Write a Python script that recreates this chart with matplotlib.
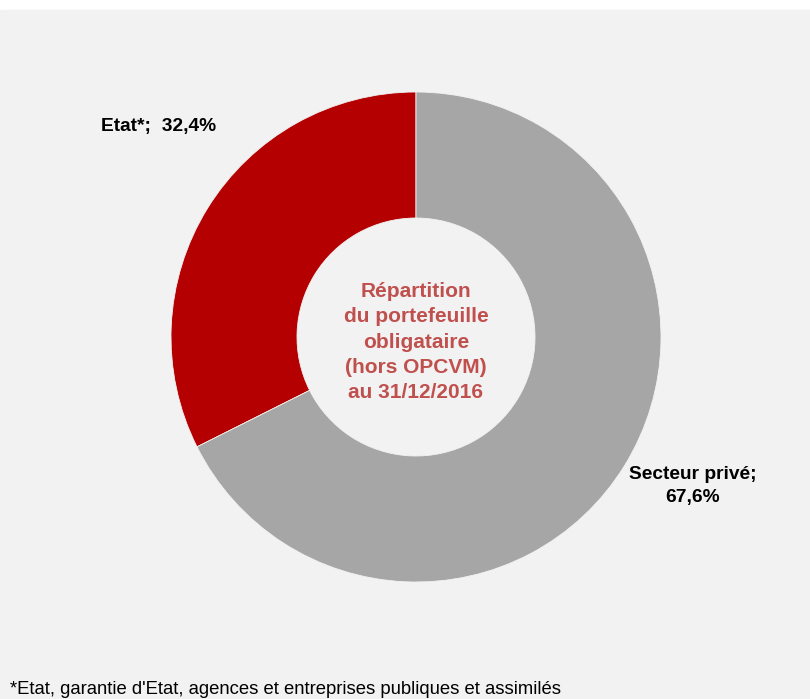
import matplotlib
matplotlib.use('Agg')
import matplotlib.pyplot as plt
from matplotlib.patches import Rectangle

# ── data ─────────────────────────────────────────────────────────────────────
labels = ['Etat*', 'Secteur privé']
shares = [32.4, 67.6]
colors = ['#b40000', '#a6a6a6']
center_title = 'Répartition\ndu portefeuille\nobligataire\n(hors OPCVM)\nau 31/12/2016'
footnote = "*Etat, garantie d'Etat, agences et entreprises publiques et assimilés"

W, H = 810, 699
BG = '#f2f2f2'

fig = plt.figure(figsize=(W / 100, H / 100), dpi=100, facecolor='white')
ax = fig.add_axes([0, 0, 1, 1])

# grey panel below the thin white strip at the top
ax.add_patch(Rectangle((0, 0), W, H - 10, color=BG, zorder=0))

cx, cy, R = 416, H - 337, 245
ax.pie(shares, colors=colors, startangle=90, counterclock=True,
       center=(cx, cy), radius=R, frame=True,
       wedgeprops=dict(width=R - 119, edgecolor=BG, linewidth=0.6))
ax.set_xlim(0, W)
ax.set_ylim(0, H)
ax.set_aspect('equal')
ax.axis('off')

ax.text(cx, H - 342, center_title, ha='center', va='center',
        fontsize=15, fontweight='bold', color='#c0504d',
        family='Liberation Sans', linespacing=1.42)

ax.text(101, H - 127, f'{labels[0]};  {shares[0]:.1f}%'.replace('.', ','),
        ha='left', va='center', fontsize=13.8, fontweight='bold',
        color='black', family='Liberation Sans')
ax.text(693, H - 486, f'{labels[1]};\n{shares[1]:.1f}%'.replace('.', ','),
        ha='center', va='center', fontsize=13.8, fontweight='bold',
        color='black', family='Liberation Sans', linespacing=1.5)

ax.text(10, 5, footnote, ha='left', va='baseline', fontsize=13.3,
        color='black', family='Liberation Sans')

fig.savefig('out.png', dpi=100, facecolor='white')
